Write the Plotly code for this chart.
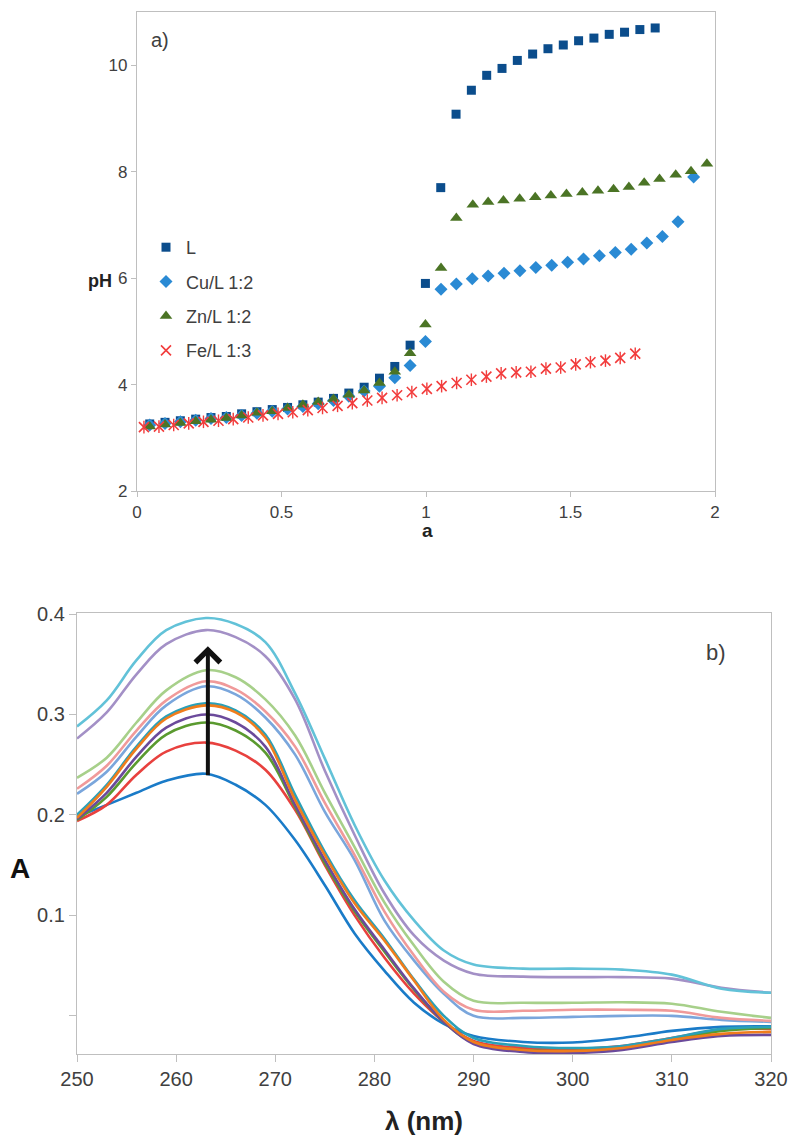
import plotly.graph_objects as go

# ---- panel a) potentiometric titration: pH vs a ----
a_L = [0.044, 0.097, 0.150, 0.203, 0.256, 0.309, 0.362, 0.415, 0.468, 0.521, 0.574, 0.627,
       0.680, 0.733, 0.786, 0.839, 0.892, 0.945, 0.998, 1.051, 1.104, 1.157, 1.210, 1.263,
       1.316, 1.369, 1.422, 1.475, 1.528, 1.581, 1.634, 1.687, 1.740, 1.793]
pH_L = [3.26, 3.29, 3.32, 3.35, 3.38, 3.40, 3.45, 3.49, 3.53, 3.57, 3.62, 3.67,
        3.74, 3.84, 3.95, 4.12, 4.34, 4.74, 5.90, 7.70, 9.08, 9.53, 9.81, 9.94,
        10.09, 10.21, 10.31, 10.38, 10.46, 10.51, 10.58, 10.62, 10.67, 10.70]

a_Cu = [0.044, 0.097, 0.150, 0.203, 0.256, 0.309, 0.362, 0.415, 0.468, 0.521, 0.574, 0.627,
        0.680, 0.733, 0.786, 0.839, 0.892, 0.945, 0.998, 1.052, 1.105, 1.160, 1.215, 1.270,
        1.325, 1.380, 1.435, 1.490, 1.545, 1.600, 1.655, 1.710, 1.764, 1.818, 1.872, 1.926]
pH_Cu = [3.24, 3.27, 3.30, 3.33, 3.36, 3.38, 3.42, 3.46, 3.50, 3.54, 3.59, 3.64,
         3.70, 3.78, 3.88, 3.97, 4.13, 4.36, 4.81, 5.79, 5.89, 5.99, 6.04, 6.09,
         6.14, 6.20, 6.24, 6.30, 6.36, 6.42, 6.48, 6.54, 6.66, 6.78, 7.06, 7.90]

a_Zn = [0.044, 0.097, 0.150, 0.203, 0.256, 0.309, 0.362, 0.415, 0.468, 0.521, 0.574, 0.627,
        0.680, 0.733, 0.786, 0.839, 0.892, 0.945, 0.998, 1.052, 1.105, 1.162, 1.215, 1.268,
        1.324, 1.378, 1.432, 1.486, 1.541, 1.595, 1.649, 1.702, 1.755, 1.808, 1.864, 1.917, 1.972]
pH_Zn = [3.21, 3.25, 3.28, 3.31, 3.34, 3.37, 3.42, 3.47, 3.50, 3.56, 3.62, 3.67,
         3.73, 3.81, 3.89, 4.03, 4.24, 4.59, 5.13, 6.19, 7.13, 7.38, 7.43, 7.46,
         7.49, 7.52, 7.55, 7.58, 7.61, 7.64, 7.67, 7.71, 7.79, 7.86, 7.94, 8.01, 8.15]

a_Fe = [0.024, 0.076, 0.127, 0.179, 0.230, 0.282, 0.333, 0.385, 0.436, 0.488, 0.539, 0.591,
        0.642, 0.694, 0.745, 0.797, 0.848, 0.900, 0.951, 1.003, 1.054, 1.106, 1.157, 1.209,
        1.260, 1.312, 1.363, 1.415, 1.466, 1.518, 1.569, 1.621, 1.672, 1.724]
pH_Fe = [3.20, 3.21, 3.24, 3.27, 3.30, 3.32, 3.35, 3.38, 3.42, 3.45, 3.48, 3.52,
         3.56, 3.60, 3.65, 3.70, 3.75, 3.80, 3.86, 3.92, 3.97, 4.03, 4.09, 4.15,
         4.21, 4.23, 4.24, 4.30, 4.32, 4.38, 4.42, 4.45, 4.50, 4.58]

a_ticks = [0, 0.5, 1, 1.5, 2]
a_ticklabels = ["0", "0.5", "1", "1.5", "2"]
pH_ticks = [2, 4, 6, 8, 10]

# ---- panel b) UV-Vis spectra: A vs wavelength ----
wl = [250, 253, 256, 259, 263, 266, 269, 272, 275, 278, 281, 284, 287, 290, 295, 300, 305, 310, 315, 320]
abs_blue = [0.198, 0.210, 0.222, 0.234, 0.241, 0.230, 0.210, 0.175, 0.130, 0.082, 0.045, 0.013, -0.008, -0.020, -0.026, -0.0265, -0.022, -0.015, -0.011, -0.0105]
abs_red = [0.194, 0.210, 0.240, 0.263, 0.272, 0.264, 0.245, 0.205, 0.150, 0.100, 0.058, 0.022, -0.006, -0.025, -0.032, -0.033, -0.030, -0.022, -0.014, -0.013]
abs_green = [0.195, 0.218, 0.252, 0.280, 0.292, 0.284, 0.262, 0.208, 0.152, 0.104, 0.064, 0.026, -0.006, -0.027, -0.034, -0.035, -0.032, -0.024, -0.015, -0.012]
abs_purple = [0.196, 0.222, 0.258, 0.287, 0.300, 0.292, 0.268, 0.210, 0.155, 0.106, 0.066, 0.027, -0.006, -0.028, -0.036, -0.037, -0.034, -0.026, -0.020, -0.019]
abs_orange = [0.197, 0.228, 0.266, 0.296, 0.309, 0.302, 0.277, 0.215, 0.160, 0.112, 0.075, 0.035, -0.004, -0.026, -0.034, -0.035, -0.032, -0.024, -0.018, -0.016]
abs_teal = [0.200, 0.230, 0.268, 0.298, 0.311, 0.304, 0.280, 0.220, 0.163, 0.115, 0.077, 0.036, 0.000, -0.022, -0.030, -0.032, -0.030, -0.022, -0.013, -0.011]
abs_lblue = [0.221, 0.243, 0.278, 0.309, 0.328, 0.320, 0.297, 0.260, 0.203, 0.155, 0.095, 0.055, 0.022, 0.000, -0.002, -0.001, 0.000, 0.000, -0.004, -0.006]
abs_pink = [0.226, 0.249, 0.284, 0.314, 0.333, 0.325, 0.303, 0.268, 0.212, 0.160, 0.104, 0.060, 0.024, 0.006, 0.005, 0.006, 0.006, 0.005, -0.002, -0.005]
abs_lgreen = [0.237, 0.257, 0.292, 0.324, 0.344, 0.337, 0.315, 0.279, 0.222, 0.168, 0.113, 0.070, 0.034, 0.015, 0.013, 0.013, 0.0135, 0.012, 0.004, -0.002]
abs_lavender = [0.276, 0.302, 0.340, 0.370, 0.384, 0.377, 0.358, 0.315, 0.244, 0.180, 0.122, 0.080, 0.055, 0.042, 0.039, 0.0385, 0.0385, 0.037, 0.028, 0.023]
abs_cyan = [0.288, 0.314, 0.354, 0.384, 0.396, 0.390, 0.372, 0.321, 0.256, 0.190, 0.135, 0.095, 0.065, 0.051, 0.047, 0.047, 0.046, 0.041, 0.027, 0.023]

wl_ticks = [250, 260, 270, 280, 290, 300, 310, 320]
A_ticks = [0, 0.1, 0.2, 0.3, 0.4]
A_ticklabels = ["", "0.1", "0.2", "0.3", "0.4"]

W, H = 796, 1146
PAGE_PAD = 8  # the page body margin shifts the figure by this much
FONT = "Liberation Sans, Arial, sans-serif"
GRAY = "#bfbfbf"
TXT = "#404040"
FE_RED = "#f23c3c"


def px(x):
    return (x - PAGE_PAD) / W


def py(y):
    # pixel from top of the window -> paper coordinate from bottom
    return 1 - (y - PAGE_PAD) / H


fig = go.Figure()

# panel a markers
fig.add_trace(go.Scatter(x=a_L, y=pH_L, mode="markers", name="L", legendgroup="L",
                         marker=dict(symbol="square", size=9, color="#0b4d8c"),
                         cliponaxis=False, xaxis="x", yaxis="y"))
fig.add_trace(go.Scatter(x=a_Cu, y=pH_Cu, mode="markers", name="Cu/L 1:2", legendgroup="Cu",
                         marker=dict(symbol="diamond", size=10, color="#2a8ad4"),
                         cliponaxis=False, xaxis="x", yaxis="y"))
fig.add_trace(go.Scatter(x=a_Zn, y=pH_Zn, mode="markers", name="Zn/L 1:2", legendgroup="Zn",
                         marker=dict(symbol="triangle-up", size=11, color="#4b7425"),
                         cliponaxis=False, xaxis="x", yaxis="y"))
# Excel-style star marker: an X plus a vertical bar
fig.add_trace(go.Scatter(x=a_Fe, y=pH_Fe, mode="markers", name="Fe/L 1:3", legendgroup="Fe",
                         marker=dict(symbol="x-thin-open", size=10, color=FE_RED,
                                     line=dict(color=FE_RED, width=1.6)),
                         cliponaxis=False, xaxis="x", yaxis="y"))
fig.add_trace(go.Scatter(x=a_Fe, y=pH_Fe, mode="markers", name="Fe/L 1:3", legendgroup="Fe",
                         showlegend=False,
                         marker=dict(symbol="line-ns-open", size=9, color=FE_RED,
                                     line=dict(color=FE_RED, width=1.4)),
                         cliponaxis=False, xaxis="x", yaxis="y"))

# panel b spectra, drawn from lowest to highest
spectra = [
    (abs_blue, "#1a7bc8"),
    (abs_red, "#e8413e"),
    (abs_green, "#5a9a2f"),
    (abs_purple, "#6b4a9b"),
    (abs_teal, "#2aa0b8"),
    (abs_orange, "#f07d1c"),
    (abs_lblue, "#7aa6dc"),
    (abs_pink, "#f09a9a"),
    (abs_lgreen, "#a7d08a"),
    (abs_lavender, "#a390c6"),
    (abs_cyan, "#62c2d8"),
]
for vals, col in spectra:
    fig.add_trace(go.Scatter(x=wl, y=vals, mode="lines", showlegend=False,
                             line=dict(color=col, width=2.6, shape="spline", smoothing=1.0),
                             xaxis="x2", yaxis="y2"))

axis_common = dict(showgrid=False, zeroline=False, showline=True, linecolor=GRAY,
                   linewidth=1.3, mirror=True, ticks="outside", tickcolor=GRAY,
                   ticklen=5, automargin=False,
                   tickfont=dict(family=FONT, size=17, color=TXT))
big_ticks = dict(family=FONT, size=20, color=TXT)

fig.update_layout(
    template="none",
    width=W, height=H,
    margin=dict(l=0, r=0, t=0, b=0, autoexpand=False),
    paper_bgcolor="white", plot_bgcolor="white",
    font=dict(family=FONT, color=TXT),
    xaxis=dict(axis_common, domain=[px(137), px(715)], range=[0, 2],
               tickvals=a_ticks, ticktext=a_ticklabels, anchor="y"),
    yaxis=dict(axis_common, domain=[py(491), py(12)], range=[2, 11],
               tickvals=pH_ticks, anchor="x"),
    xaxis2=dict(axis_common, domain=[px(77), px(771)], range=[250, 320],
                tickvals=wl_ticks, anchor="y2", ticklen=7, tickfont=big_ticks),
    yaxis2=dict(axis_common, domain=[py(1054), py(613)], range=[-0.038, 0.401],
                tickvals=A_ticks, ticktext=A_ticklabels, anchor="x2", ticklen=7,
                tickfont=big_ticks),
    legend=dict(x=px(146), y=py(229), xanchor="left", yanchor="top",
                bgcolor="rgba(0,0,0,0)", font=dict(family=FONT, size=18, color=TXT),
                tracegroupgap=8, itemwidth=30),
    showlegend=True,
)

annots = [
    dict(text="a)", x=px(160), y=py(40), font=dict(size=20)),
    dict(text="<b>pH</b>", x=px(100), y=py(281), font=dict(size=18, color="#222")),
    dict(text="<b>a</b>", x=px(428), y=py(530), font=dict(size=19, color="#222")),
    dict(text="b)", x=px(716), y=py(652), font=dict(size=22)),
    dict(text="<b>A</b>", x=px(20), y=py(868), font=dict(size=28, color="#111")),
    dict(text="<b>λ (nm)</b>", x=px(424), y=py(1121), font=dict(size=26, color="#222")),
]
for an in annots:
    fig.add_annotation(xref="paper", yref="paper", showarrow=False, xanchor="center",
                       yanchor="middle", font_family=FONT, **an)

# growth arrow across the spectra
fig.add_annotation(x=263.2, y=0.368, ax=263.2, ay=0.238, xref="x2", yref="y2",
                   axref="x2", ayref="y2", showarrow=True, arrowhead=4,
                   arrowsize=1.2, arrowwidth=4, arrowcolor="#111", text="")

fig.write_html("out.html")
